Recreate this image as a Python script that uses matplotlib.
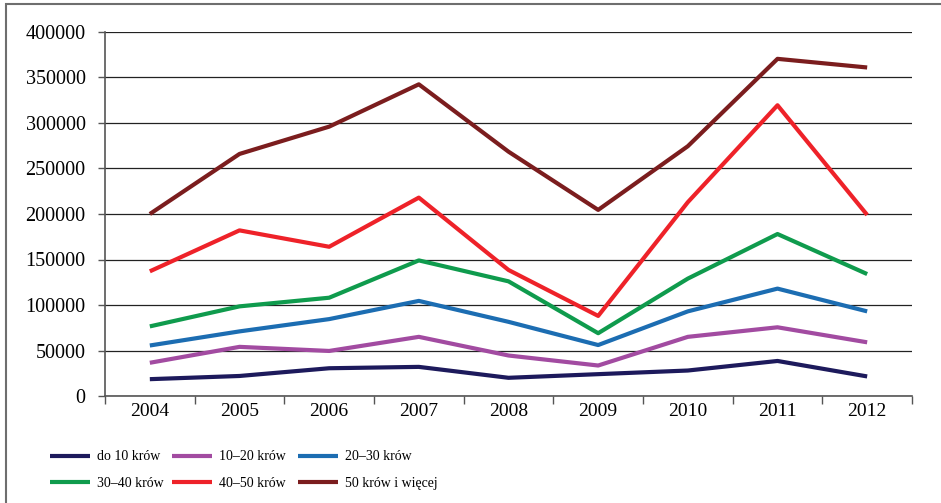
import numpy as np
import matplotlib
matplotlib.use("Agg")
import matplotlib.pyplot as plt
from matplotlib.patches import Rectangle

plt.rcParams['font.family'] = ['Liberation Serif', 'DejaVu Serif']

years = ['2004', '2005', '2006', '2007', '2008', '2009', '2010', '2011', '2012']

do10 = [18500, 22000, 30500, 32000, 20000, 24000, 28000, 38500, 21500]
k10_20 = [36500, 54000, 49500, 65000, 44500, 33500, 65000, 75500, 59000]
k20_30 = [55500, 71000, 84500, 104500, 81500, 56000, 93000, 118000, 93000]
k30_40 = [76500, 98500, 108000, 149000, 126000, 69000, 129000, 178000, 134000]
k40_50 = [137000, 182000, 164000, 218000, 138500, 88000, 213000, 319500, 199000]
k50 = [200000, 266000, 296000, 342500, 268500, 204500, 274500, 370500, 361000]

series = [
    ('do 10 krów', do10, '#1d1a5c'),
    ('10–20 krów', k10_20, '#a24ba1'),
    ('20–30 krów', k20_30, '#1c6db2'),
    ('30–40 krów', k30_40, '#0f9b4d'),
    ('40–50 krów', k40_50, '#ee2229'),
    ('50 krów i więcej', k50, '#7b1d1e'),
]

fig = plt.figure(figsize=(9.41, 5.03), dpi=100)
ax = fig.add_axes([105 / 941, 107 / 503, 807 / 941, 364 / 503])

x = np.arange(len(years))
lines = []
for label, vals, color in series:
    ln, = ax.plot(x, vals, color=color, lw=3, label=label, solid_capstyle='butt')
    lines.append(ln)

ax.set_xlim(-0.5, len(years) - 0.5)
ax.set_ylim(0, 400000)
ax.set_yticks(np.arange(0, 400001, 50000))
ax.yaxis.grid(True, color='#222222', lw=0.9)
ax.set_axisbelow(True)

# ticks at category boundaries, labels in the middle
ax.set_xticks(np.arange(-0.5, len(years), 1.0))
ax.set_xticklabels([])
ax.set_xticks(x, minor=True)
ax.set_xticklabels(years, minor=True)
ax.tick_params(axis='x', which='major', length=6, width=1, color='#555555', direction='out')
ax.tick_params(axis='x', which='minor', length=0, pad=5, labelsize=14)
ax.tick_params(axis='y', length=5, width=1, color='#555555', direction='out', pad=9, labelsize=14.5)

for s in ['top', 'right']:
    ax.spines[s].set_visible(False)
for s in ['left', 'bottom']:
    ax.spines[s].set_color('#555555')
    ax.spines[s].set_linewidth(1.2)

# legend: three columns placed separately
col_x = [50, 172, 298]
for i, cx in enumerate(col_x):
    hs = [lines[i], lines[i + 3]]
    fig.legend(handles=hs, loc='center left', bbox_to_anchor=(cx / 941, 33 / 503),
               frameon=False, fontsize=10, borderpad=0, handlelength=2.9,
               handletextpad=0.45, labelspacing=0.95, borderaxespad=0)

# outer frame (cropped at right and bottom)
fig.add_artist(Rectangle((6 / 941, -0.5), 2.0, 0.5 + 499 / 503, transform=fig.transFigure,
                         fill=False, edgecolor='#6e6e6e', lw=1.5, clip_on=False))

fig.savefig('out.png', dpi=100)
